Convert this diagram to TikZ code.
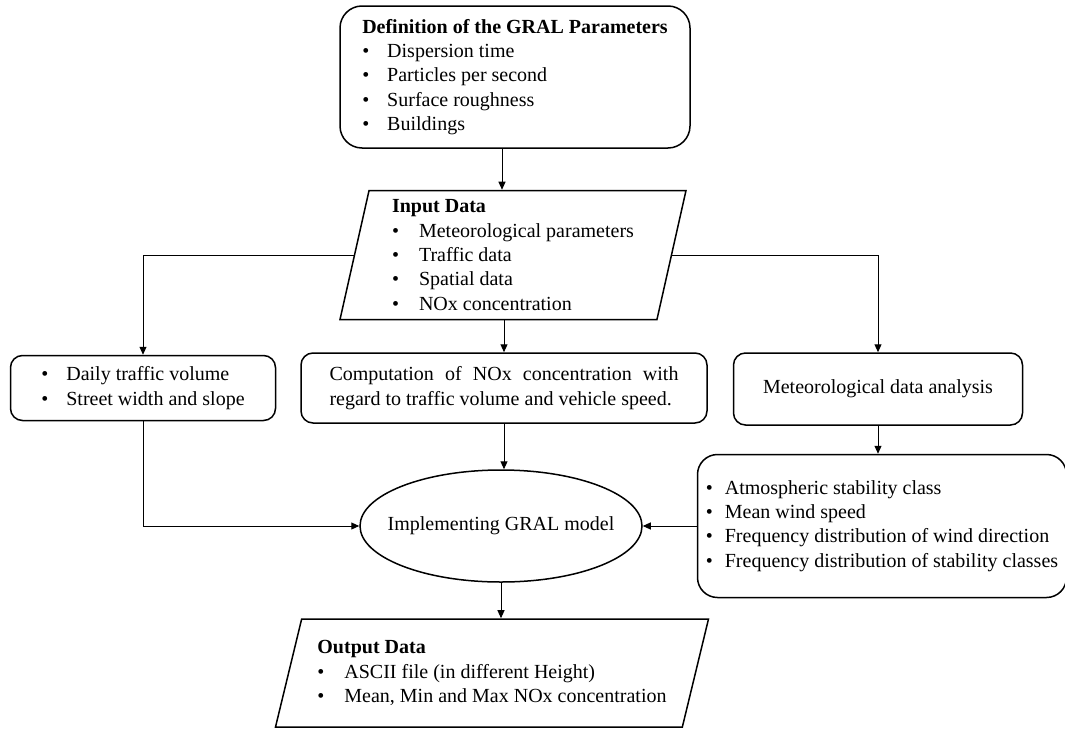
\documentclass[tikz,border=0pt]{standalone}
\usepackage{fontspec}
\setmainfont{Liberation Serif}
\usetikzlibrary{shapes.geometric,arrows.meta}
\newcommand{\bl}[2][25pt]{\makebox[#1][l]{\textbullet}#2}

\begin{document}
\begin{tikzpicture}[x=1pt,y=-1pt,
    txt/.style={font=\fontsize{20}{24.3}\selectfont,inner sep=0pt},
    box/.style={txt,draw,line width=1.5pt,rounded corners=12pt,align=left},
    io/.style={txt,draw,line width=1.5pt,trapezium,trapezium left angle=76,trapezium right angle=104,trapezium stretches body,align=left},
    arr/.style={line width=1pt,-{Triangle[length=8pt,width=7pt]}}]
  \useasboundingbox (0,0) rectangle (1065,728);
  \node[box,rounded corners=22pt,minimum width=350pt,minimum height=142pt] (defbox) at (515,77)
    {\textbf{Definition of the GRAL Parameters}\\\bl{Dispersion time}\\\bl{Particles per second}\\\bl{Surface roughness}\\\bl{Buildings}};
  \node[io,minimum width=346pt,minimum height=129pt,inner ysep=3pt] (inbox) at (513,255)
    {\textbf{Input Data}\\\bl[27pt]{Meteorological parameters}\\\bl[27pt]{Traffic data}\\\bl[27pt]{Spatial data}\\\bl[27pt]{NOx concentration}};
  \node[box,minimum width=265pt,minimum height=65pt] (trafbox) at (143,388)
    {\bl{Daily traffic volume}\\\bl{Street width and slope}};
  \node[box,minimum width=406pt,minimum height=70pt,text width=349pt,align=justify] (compbox) at (504,388)
    {Computation of NOx concentration with\linebreak regard to traffic volume and vehicle speed.};
  \node[box,minimum width=289pt,minimum height=72pt,align=center] (metbox) at (878,389)
    {Meteorological data analysis};
  \node[box,rounded corners=20pt,minimum width=369pt,minimum height=143pt] (stabbox) at (882,526)
    {\bl[19pt]{Atmospheric stability class}\\\bl[19pt]{Mean wind speed}\\\bl[19pt]{Frequency distribution of wind direction}\\\bl[19pt]{Frequency distribution of stability classes}};
  \node[txt,draw,line width=1.5pt,ellipse,inner xsep=-14pt,minimum width=282pt,minimum height=112pt] (model) at (501,526)
    {Implementing GRAL model};
  \node[io,minimum width=433pt,minimum height=108pt,inner ysep=20pt] (outbox) at (492,673)
    {\textbf{Output Data}\\\bl[27pt]{ASCII file (in different Height)}\\\bl[27pt]{Mean, Min and Max NOx concentration}};

  \draw[arr] ([xshift=-13pt]defbox.south) -- ([xshift=-13pt]defbox.south |- inbox.north);
  \draw[arr] (inbox.left side) -| (trafbox.north);
  \draw[arr] (inbox.right side) -| (metbox.north);
  \draw[arr] (compbox.north |- inbox.south) -- (compbox.north);
  \draw[arr] (metbox.south) -- (metbox.south |- stabbox.north);
  \draw[arr] (compbox.south) -- (compbox.south |- model.north);
  \draw[arr] (trafbox.south) |- (model.west);
  \draw[arr] (stabbox.west) -- (model.east);
  \draw[arr] (model.south) -- (model.south |- outbox.north);
\end{tikzpicture}
\end{document}
